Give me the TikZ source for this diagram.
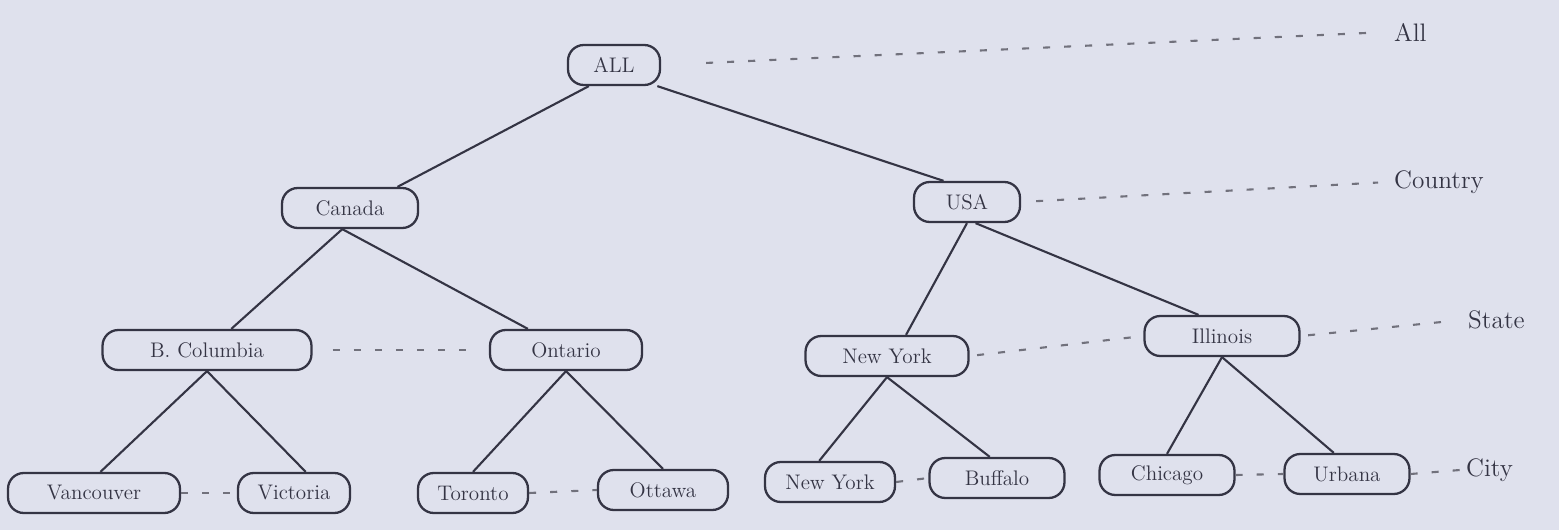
\documentclass[tikz,border=0pt]{standalone}
\usepackage{tikz}
\usetikzlibrary{positioning,calc}
\definecolor{paper}{RGB}{223,225,237}
\definecolor{pencil}{RGB}{52,52,68}

\begin{document}
\begin{tikzpicture}[
    x=0.02cm, y=-0.02cm,
    place/.style={rectangle, draw=pencil, line width=1.3pt, rounded corners=9pt, minimum height=0.8cm, inner xsep=4pt, text=pencil, font=\large},
    link/.style={draw=pencil, line width=1.2pt},
    level/.style={draw=pencil!70, line width=1.2pt, dash pattern=on 4pt off 8pt},
    tag/.style={text=pencil, font=\Large, anchor=west}
]
    \fill[paper] (0,0) rectangle (1559,530);
    \useasboundingbox (0,0) rectangle (1559,530);

    % hierarchy
    \node[place, minimum width=1.84cm] (all) at (614,65) {ALL};
    \node[place, minimum width=2.72cm] (canada) at (350,208) {Canada};
    \node[place, minimum width=2.12cm] (usa) at (967,202) {USA};
    \node[place, minimum width=4.18cm] (bcol) at (207,350) {B. Columbia};
    \node[place, minimum width=3.04cm] (ontario) at (566,350) {Ontario};
    \node[place, minimum width=3.26cm] (nystate) at (887,356) {New York};
    \node[place, minimum width=3.1cm] (illinois) at (1222,336) {Illinois};
    \node[place, minimum width=3.44cm] (vancouver) at (94,493) {Vancouver};
    \node[place, minimum width=2.24cm] (victoria) at (294,493) {Victoria};
    \node[place, minimum width=2.2cm] (toronto) at (473,493) {Toronto};
    \node[place, minimum width=2.6cm] (ottawa) at (663,490) {Ottawa};
    \node[place, minimum width=2.6cm] (nycity) at (830,482) {New York};
    \node[place, minimum width=2.7cm] (buffalo) at (997,478) {Buffalo};
    \node[place, minimum width=2.7cm] (chicago) at (1167,475) {Chicago};
    \node[place, minimum width=2.5cm] (urbana) at (1347,474) {Urbana};

    % level names
    \node[tag] (lall) at (1388,32) {All};
    \node[tag] (lcountry) at (1388,182) {Country};
    \node[tag] (lstate) at (1462,320) {State};
    \node[tag] (lcity) at (1460,470) {City};

    \draw[link] (all.-140) -- (canada.24);
    \draw[link] (all.-26) -- (usa.138);
    \draw[link] (canada.-110) -- (bcol.41);
    \draw[link] (canada.-110) -- (ontario.151);
    \draw[link] (usa.south) -- (nystate.48);
    \draw[link] (usa.-68) -- (illinois.138);
    \draw[link] (bcol.south) -- (vancouver.73);
    \draw[link] (bcol.south) -- (victoria.61);
    \draw[link] (ontario.south) -- (toronto.north);
    \draw[link] (ontario.south) -- (ottawa.north);
    \draw[link] (nystate.south) -- (nycity.117);
    \draw[link] (nystate.south) -- (buffalo.109);
    \draw[link] (illinois.south) -- (chicago.north);
    \draw[link] (illinois.south) -- (urbana.122);

    \draw[level, shorten <=0.9cm, shorten >=0.2cm] (all.east) -- (lall.west);
    \draw[level, shorten <=0.3cm, shorten >=0.2cm] (usa.east) -- (lcountry.west);
    \draw[level, shorten <=0.4cm, shorten >=0.4cm] (bcol.east) -- (ontario.west);
    \draw[level, shorten <=0.15cm, shorten >=0.2cm] (nystate.east) -- (illinois.west);
    \draw[level, shorten <=0.15cm, shorten >=0.2cm] (illinois.east) -- (lstate.west);
    \draw[level] (vancouver.east) -- (victoria.west);
    \draw[level] (toronto.east) -- (ottawa.west);
    \draw[level] (nycity.east) -- (buffalo.west);
    \draw[level] (chicago.east) -- (urbana.west);
    \draw[level] (urbana.east) -- (lcity.west);
\end{tikzpicture}
\end{document}
